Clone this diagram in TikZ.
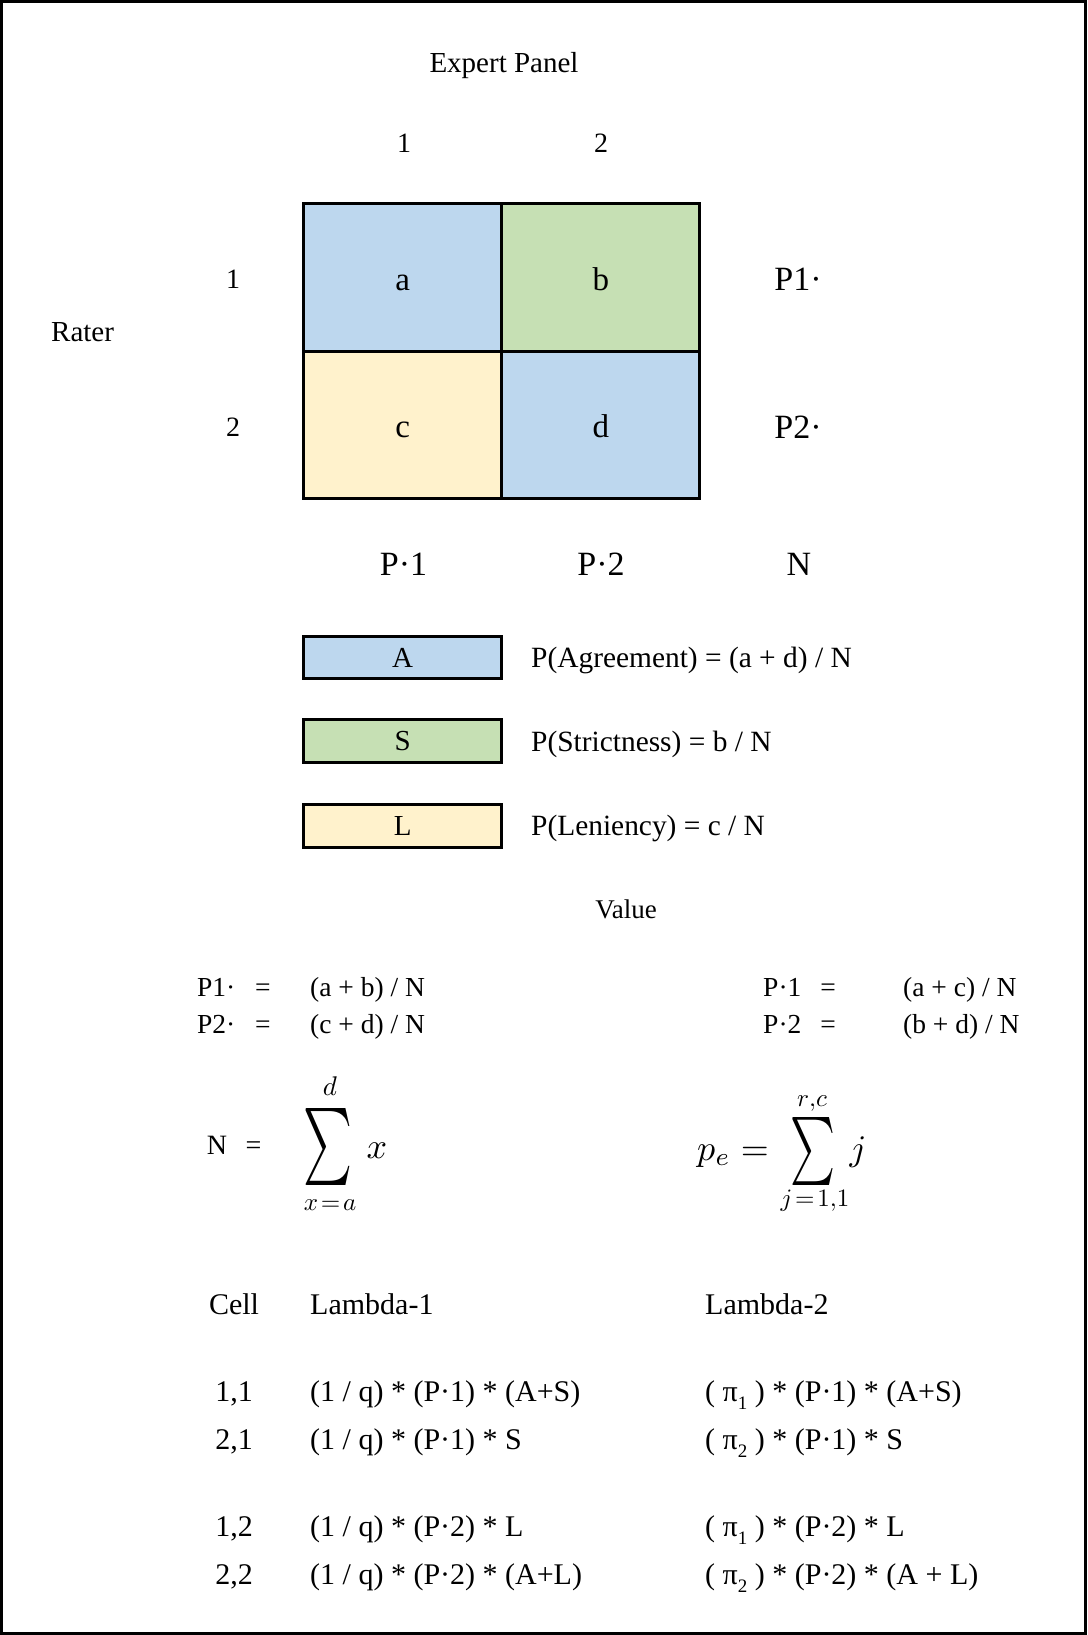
\documentclass[tikz,border=0pt]{standalone}
\usepackage{fontspec}
\setmainfont{Liberation Serif}
\newcommand{\myfs}[1]{\fontsize{#1}{#1}\selectfont}
\newcommand{\mysub}[1]{\raisebox{-0.28em}{\fontsize{19}{19}\selectfont #1}}
\definecolor{cblue}{HTML}{BDD7EE}
\definecolor{cgreen}{HTML}{C6E0B4}
\definecolor{cyellow}{HTML}{FFF2CC}
\begin{document}
\begin{tikzpicture}[x=1pt,y=-1pt,
  txt/.style={inner sep=0pt, anchor=base},
  txtw/.style={inner sep=0pt, anchor=base west},
  cellbox/.style={draw=black, line width=3pt, minimum width=198.2pt, minimum height=147.5pt,
    inner sep=0pt, text height=25.5pt, text depth=0pt, font=\myfs{33}},
  legbox/.style={draw=black, line width=3pt, minimum width=198.2pt, minimum height=42.7pt,
    inner sep=0pt, font=\myfs{29}},
  frm/.style={font=\myfs{27.5}},
  tab/.style={font=\myfs{30}}]
\useasboundingbox (0,0) rectangle (1087,1635);
\draw[line width=2.6pt] (1.3,1.3) rectangle (1085.7,1633.7);

% headers
\node[txt,font=\myfs{29}] (expert) at (504,73) {Expert Panel};
\node[txt,font=\myfs{28}] (col1) at (404,153) {1};
\node[txt,font=\myfs{28}] (col2) at (601,153) {2};
\node[txt,font=\myfs{28}] (row1) at (233,288) {1};
\node[txt,font=\myfs{28}] (row2) at (233,436) {2};
\node[txtw,font=\myfs{29}] (rater) at (51,341) {Rater};

% grid
\node[cellbox, fill=cblue]   (a) at (402.6,277.25) {a};
\node[cellbox, fill=cgreen]  (b) at (600.85,277.25) {b};
\node[cellbox, fill=cyellow] (c) at (402.6,424.75) {c};
\node[cellbox, fill=cblue]   (d) at (600.85,424.75) {d};

% margins
\node[txt,font=\myfs{34}] (p1r) at (798,290) {P1·};
\node[txt,font=\myfs{34}] (p2r) at (798,438) {P2·};
\node[txt,font=\myfs{34}] (pc1) at (403.5,575) {P·1};
\node[txt,font=\myfs{34}] (pc2) at (601,575) {P·2};
\node[txt,font=\myfs{34}] (ntot) at (799,575) {N};

% legend
\node[legbox, fill=cblue]   (A) at (402.7,657.5) {A};
\node[legbox, fill=cgreen]  (S) at (402.7,741.3) {S};
\node[legbox, fill=cyellow] (L) at (402.7,825.7) {L};
\node[txtw,font=\myfs{29.4}] (tA) at (531,667) {P(Agreement) = (a + d) / N};
\node[txtw,font=\myfs{29.4}] (tS) at (531,751) {P(Strictness) = b / N};
\node[txtw,font=\myfs{29.4}] (tL) at (531,835) {P(Leniency) = c / N};

\node[txt,font=\myfs{27}] (value) at (626,918) {Value};

% marginal formulas
\node[txtw,frm] (f1l) at (197,996) {P1·};
\node[txt,frm]  (f1e) at (263,996) {=};
\node[txtw,frm] (f1r) at (310,996) {(a + b) / N};
\node[txtw,frm] (f2l) at (197,1033) {P2·};
\node[txt,frm]  (f2e) at (263,1033) {=};
\node[txtw,frm] (f2r) at (310,1033) {(c + d) / N};
\node[txtw,frm] (f3l) at (763,996) {P·1};
\node[txt,frm]  (f3e) at (828,996) {=};
\node[txtw,frm] (f3r) at (903,996) {(a + c) / N};
\node[txtw,frm] (f4l) at (763,1033) {P·2};
\node[txt,frm]  (f4e) at (828,1033) {=};
\node[txtw,frm] (f4r) at (903,1033) {(b + d) / N};

% sums
\node[txt,font=\myfs{28}] (nn) at (217,1154) {N};
\node[txt,font=\myfs{28}] (ne) at (253.5,1154) {=};
\node[inner sep=0pt] (sum1) at (327.5,1146.5) {\resizebox*{49pt}{77pt}{$\sum$}};
\node[txt] (sup1) at (330,1095) {\scalebox{2.7}{$d$}};
\node[txt] (sub1) at (330,1210) {\scalebox{2.5}{$x\!=\!a$}};
\node[txt] (x1) at (377,1158) {\scalebox{3.6}{$x$}};

\node[txtw] (pe) at (697,1160) {\scalebox{3.6}{$p_e =$}};
\node[inner sep=0pt] (sum2) at (812.5,1151) {\resizebox*{45pt}{68pt}{$\sum$}};
\node[txt] (sup2) at (812,1106) {\scalebox{2.5}{$r{,}c$}};
\node[txt] (sub2) at (815,1206) {\scalebox{2.5}{$j\!=\!1{,}1$}};
\node[txt] (j2) at (858,1160) {\scalebox{3.6}{$j$}};

% table
\node[txt,tab]  (cellh) at (234,1314) {Cell};
\node[txtw,tab] (l1h) at (310,1314) {Lambda-1};
\node[txtw,tab] (l2h) at (705,1314) {Lambda-2};

\node[txt,tab]  (k11) at (234,1401) {1,1};
\node[txtw,tab] (l111) at (310,1401) {(1 / q) * (P·1) * (A+S)};
\node[txtw,tab] (l211) at (705,1401) {( π\mysub{1} ) * (P·1) * (A+S)};
\node[txt,tab]  (k21) at (234,1449) {2,1};
\node[txtw,tab] (l121) at (310,1449) {(1 / q) * (P·1) * S};
\node[txtw,tab] (l221) at (705,1449) {( π\mysub{2} ) * (P·1) * S};
\node[txt,tab]  (k12) at (234,1536) {1,2};
\node[txtw,tab] (l112) at (310,1536) {(1 / q) * (P·2) * L};
\node[txtw,tab] (l212) at (705,1536) {( π\mysub{1} ) * (P·2) * L};
\node[txt,tab]  (k22) at (234,1584) {2,2};
\node[txtw,tab] (l122) at (310,1584) {(1 / q) * (P·2) * (A+L)};
\node[txtw,tab] (l222) at (705,1584) {( π\mysub{2} ) * (P·2) * (A + L)};
\end{tikzpicture}
\end{document}
